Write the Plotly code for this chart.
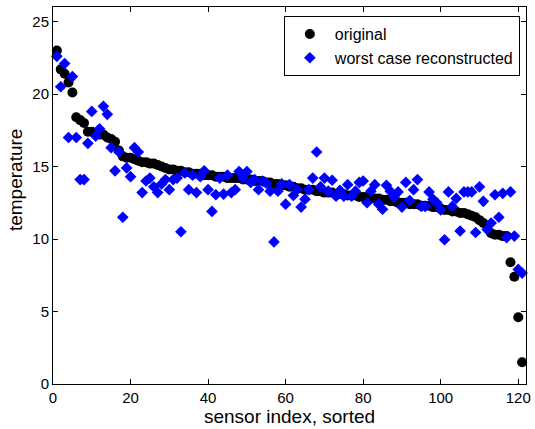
import plotly.graph_objects as go

sensor_index = list(range(1, 122))

original = [
    23.0, 21.7, 21.4, 20.8, 20.1, 18.4, 18.2, 18.0, 17.4, 17.4,
    17.3, 17.2, 17.2, 17.0, 16.9, 16.7, 16.1, 15.7, 15.6, 15.6,
    15.5, 15.4, 15.3, 15.3, 15.2, 15.2, 15.1, 15.0, 14.9, 14.8,
    14.8, 14.7, 14.7, 14.6, 14.6, 14.5, 14.5, 14.5, 14.4, 14.4,
    14.4, 14.3, 14.3, 14.3, 14.2, 14.2, 14.2, 14.2, 14.1, 14.1,
    14.1, 14.0, 14.0, 14.0, 13.9, 13.9, 13.8, 13.8, 13.7, 13.7,
    13.6, 13.6, 13.5, 13.5, 13.4, 13.4, 13.4, 13.3, 13.3, 13.2,
    13.2, 13.2, 13.1, 13.1, 13.1, 13.0, 13.0, 13.0, 12.9, 12.9,
    12.9, 12.8, 12.8, 12.8, 12.7, 12.7, 12.6, 12.6, 12.5, 12.5,
    12.5, 12.4, 12.4, 12.4, 12.3, 12.3, 12.3, 12.2, 12.2, 12.1,
    12.0, 12.0, 11.9, 11.9, 11.8, 11.8, 11.7, 11.6, 11.5, 11.3,
    11.1, 10.9, 10.4, 10.3, 10.3, 10.2, 10.2, 8.4, 7.4, 4.6,
    1.5,
]

reconstructed = [
    22.6, 20.5, 22.1, 17.0, 21.2, 17.0, 14.1, 14.1, 16.6, 18.8,
    17.1, 17.6, 19.15, 18.6, 16.3, 14.7, 16.0, 11.5, 14.9, 14.3,
    16.3, 16.0, 13.2, 14.0, 14.2, 13.6, 13.2, 13.8, 14.1, 13.4,
    14.1, 14.2, 10.5, 14.55, 13.4, 14.4, 13.2, 14.3, 14.7, 13.4,
    11.9, 13.05, 14.2, 13.1, 14.4, 13.2, 13.4, 14.65, 14.2, 14.65,
    13.9, 14.1, 13.4, 14.0, 13.85, 13.3, 9.8, 13.3, 13.8, 12.4,
    13.75, 13.0, 13.4, 12.2, 12.75, 13.4, 14.2, 16.0, 13.6, 14.2,
    13.3, 14.05, 12.95, 13.35, 12.95, 13.75, 12.95, 13.3, 13.9, 14.0,
    12.5, 13.3, 13.75, 12.4, 12.05, 13.7, 13.3, 12.9, 13.25, 12.2,
    13.9, 12.65, 13.4, 14.1, 12.25, 12.25, 13.25, 12.75, 12.5, 12.0,
    9.95, 13.25, 12.25, 12.8, 10.55, 13.25, 13.25, 13.25, 10.45, 13.6,
    12.6, 10.65, 11.1, 13.05, 11.5, 13.15, 10.1, 13.25, 10.2, 7.9,
    7.65,
]

x_ticks = [0, 20, 40, 60, 80, 100, 120]
y_ticks = [0, 5, 10, 15, 20, 25]

font_family = "Liberation Sans, Arial, Helvetica, sans-serif"

fig = go.Figure()
fig.add_trace(go.Scatter(
    x=sensor_index, y=original, mode="markers", name="original",
    marker=dict(symbol="circle", color="black", size=10),
    cliponaxis=False,
))
fig.add_trace(go.Scatter(
    x=sensor_index, y=reconstructed, mode="markers", name="worst case reconstructed",
    marker=dict(symbol="diamond", color="#0000ff", size=9),
    cliponaxis=False,
))

axis_common = dict(
    showline=True, linecolor="black", linewidth=1, mirror="ticks",
    ticks="inside", ticklen=5, tickcolor="black", tickwidth=1,
    showgrid=False, zeroline=False,
    tickfont=dict(family=font_family, size=15, color="black"),
)

fig.update_layout(
    width=535, height=429,
    margin=dict(l=53, r=4, t=7, b=45),
    paper_bgcolor="white", plot_bgcolor="white",
    font=dict(family=font_family, color="black"),
    xaxis=dict(range=[0, 122], tickvals=x_ticks, ticklabeloverflow="allow",
               title=dict(text="sensor index, sorted", font=dict(size=19), standoff=0),
               **axis_common),
    yaxis=dict(range=[0, 26], tickvals=y_ticks, ticklabeloverflow="allow",
               **axis_common),
    annotations=[dict(
        text="temperature", textangle=-90, showarrow=False,
        xref="paper", yref="paper", x=-0.079, y=0.54,
        xanchor="center", yanchor="middle",
        font=dict(family=font_family, size=19, color="black"),
    )],
    legend=dict(x=0.987, y=0.976, xanchor="right", yanchor="top",
                bgcolor="white", bordercolor="black", borderwidth=1,
                font=dict(size=16, color="black"),
                tracegroupgap=0, itemwidth=40),
    showlegend=True,
)

fig.write_html("out.html", config={"displayModeBar": False},
               post_script="document.body.style.margin='0px';")
